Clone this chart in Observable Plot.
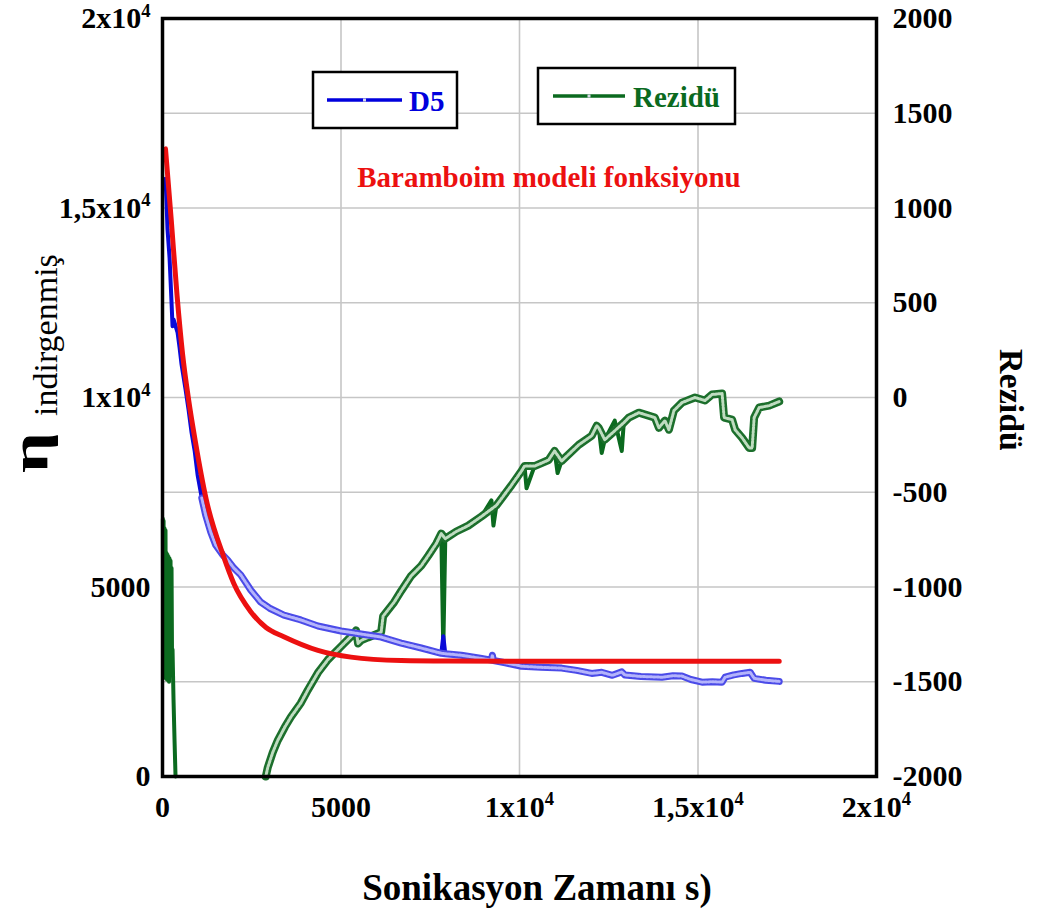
<!DOCTYPE html>
<html>
<head>
<meta charset="utf-8">
<script src="https://cdn.jsdelivr.net/npm/d3@7"></script>
<script src="https://cdn.jsdelivr.net/npm/@observablehq/plot@0.6"></script>
<style>
  html, body { margin: 0; padding: 0; background: #ffffff; }
  #chart { width: 1037px; height: 914px; }
</style>
</head>
<body>
<div id="chart"></div>
<script>
// D5 reduced viscosity vs sonication time (s)
const d5Time = [84, 112, 140, 197, 253, 281, 309, 421, 478, 534, 646, 730, 815, 900, 983, 1100, 1208, 1350, 1489, 1685, 1826, 2000, 2191, 2472, 2753, 3000, 3399, 3876, 4354, 5000, 5562, 6124, 6685, 7247, 7809, 7865, 7921, 8371, 8900, 9214, 9240, 9270, 9600, 10056, 10600, 11180, 11600, 12023, 12303, 12600, 12865, 12950, 13400, 13989, 14300, 14551, 14800, 15113, 15400, 15675, 15759, 16000, 16236, 16461, 16573, 16900, 17275];
const d5Eta = [15770, 15185, 14440, 13700, 12510, 11880, 12060, 11720, 11320, 10870, 10210, 9680, 9070, 8600, 7960, 7350, 6900, 6450, 6110, 5850, 5710, 5500, 5320, 4920, 4600, 4440, 4260, 4130, 3970, 3840, 3760, 3680, 3520, 3390, 3250, 3700, 3240, 3200, 3120, 3070, 3200, 3060, 3000, 2910, 2880, 2860, 2800, 2720, 2750, 2670, 2760, 2680, 2640, 2620, 2660, 2650, 2560, 2490, 2500, 2490, 2620, 2680, 2720, 2750, 2590, 2540, 2510];

// Bahramboim model fit
const modelTime = [84, 244, 407, 562, 730, 927, 1222, 1713, 1994, 2472, 2900, 3399, 4354, 5281, 6685, 8000, 10000, 17275];
const modelEta = [16560, 14700, 12700, 11150, 9950, 8800, 7320, 5800, 5100, 4350, 3930, 3690, 3330, 3150, 3060, 3045, 3040, 3040];

// Residuals (right axis); NaN marks the stretch below -2000
const rezTime = [10, 20, 30, 42, 56, 70, 84, 98, 112, 126, 140, 155, 169, 183, 197, 211, 225, 239, 253, 267, 281, 309, 337, 365, 1600, 2893, 2949, 3090, 3230, 3427, 3596, 3876, 4073, 4354, 4635, 5000, 5365, 5421, 5478, 5562, 5758, 6124, 6180, 6489, 6685, 6966, 7247, 7444, 7669, 7809, 7865, 7921, 8230, 8567, 8933, 9214, 9270, 9354, 9775, 10056, 10141, 10197, 10421, 10815, 10983, 11067, 11180, 11657, 12023, 12163, 12219, 12303, 12388, 12668, 12865, 12921, 13062, 13343, 13792, 13904, 14073, 14185, 14326, 14551, 14916, 15197, 15393, 15675, 15731, 15955, 16039, 16236, 16433, 16517, 16573, 16714, 16995, 17275];
const rezValue = [-640, -1480, -650, -1470, -690, -1460, -700, -1480, -820, -1490, -830, -1480, -840, -1500, -850, -1420, -862, -1390, -900, -1383, -1330, -1596, -1809, -2000, NaN, -2000, -1952, -1872, -1809, -1739, -1686, -1612, -1543, -1452, -1383, -1314, -1245, -1229, -1298, -1282, -1266, -1239, -1154, -1080, -1021, -941, -888, -835, -771, -718, -1330, -745, -707, -676, -628, -543, -676, -569, -463, -388, -362, -479, -362, -330, -282, -399, -335, -250, -202, -149, -160, -293, -223, -122, -282, -133, -106, -80, -106, -160, -122, -170, -69, -27, 0, -16, 16, 21, -106, -117, -170, -213, -266, -266, -106, -53, -43, -21];

const xTicks = [0, 5000, 10000, 15000, 20000];
const yTicks = [0, 5000, 10000, 15000, 20000];
const rezTicks = [-2000, -1500, -1000, -500, 0, 500, 1000, 1500, 2000];

// the residual axis (-2000..2000) shares the frame with the viscosity axis (0..20000)
const toLeft = r => (r + 2000) * 5;
const fromLeft = y => y / 5 - 2000;

// 1x10^4 style labels; the caret part becomes a superscript after rendering
const sciFormat = v => v < 10000 ? String(v) : String(v / 10000).replace(".", ",") + "x10^4";

function isSpike(values, i, thr) {
  if (i === 0 || i === values.length - 1) return false;
  const a = values[i] - values[i - 1], b = values[i] - values[i + 1];
  if (!isFinite(a) || !isFinite(b)) return false;
  return Math.abs(a) > thr && Math.abs(b) > thr && Math.sign(a) === Math.sign(b);
}

const d5Rows = d5Time.map((t, i) => ({t, v: d5Eta[i], spike: isSpike(d5Eta, i, 250)}));
const modelRows = modelTime.map((t, i) => ({t, v: modelEta[i]}));
const rezRows = rezTime.map((t, i) => ({t, r: rezValue[i], y: toLeft(rezValue[i]), spike: isSpike(rezValue, i, 60)}));

// hollow-marker band, drawn where the samples sit close together
const d5Band = d5Rows.filter(d => d.t >= 1100 && !d.spike);
const rezBand = rezRows.filter(d => d.t >= 2800 && !d.spike);

const BLUE = "#0a0ad8";
const GREEN = "#0b6a1f";
const RED = "#ec1010";

const chart = Plot.plot({
  width: 1037,
  height: 914,
  marginLeft: 162,
  marginRight: 161,
  marginTop: 18,
  marginBottom: 138,
  x: {domain: [0, 20000]},
  y: {domain: [0, 20000]},
  style: {fontFamily: "'Liberation Serif', 'Times New Roman', serif", fontSize: "30px", fontWeight: "bold", background: "#ffffff", color: "#000"},
  marks: [
    Plot.gridX([5000, 10000, 15000], {stroke: "#c6c6c6", strokeOpacity: 1, strokeWidth: 1.6}),
    Plot.gridY(rezTicks.slice(1, -1).map(toLeft), {stroke: "#c6c6c6", strokeOpacity: 1, strokeWidth: 1.6}),
    Plot.axisX({ticks: xTicks, tickFormat: sciFormat, tickSize: 0, tickPadding: 19, label: null}),
    Plot.axisY({ticks: yTicks, tickFormat: sciFormat, tickSize: 0, tickPadding: 12, label: null}),
    Plot.axisY({anchor: "right", ticks: rezTicks.map(toLeft), tickFormat: d => String(Math.round(fromLeft(d))), tickSize: 0, tickPadding: 16, label: null}),

    // residuals
    Plot.line(rezRows, {x: "t", y: "y", stroke: GREEN, strokeWidth: 4}),
    Plot.line(rezBand, {x: "t", y: "y", stroke: "#1c6f2c", strokeWidth: 8}),
    Plot.line(rezBand, {x: "t", y: "y", stroke: "#bfdcc0", strokeWidth: 3, strokeDasharray: "2,1.5"}),

    // D5 measurements
    Plot.line(d5Rows, {x: "t", y: "v", stroke: BLUE, strokeWidth: 4}),
    Plot.line(d5Band, {x: "t", y: "v", stroke: "#4b4be8", strokeWidth: 7}),
    Plot.line(d5Band, {x: "t", y: "v", stroke: "#b4b4fb", strokeWidth: 3, strokeDasharray: "2,1.5"}),

    // model curve
    Plot.line(modelRows, {x: "t", y: "v", stroke: RED, strokeWidth: 5, curve: "monotone-x"}),

    Plot.frame({stroke: "#000", strokeWidth: 3.5})
  ]
});

// superscript exponents in tick labels
chart.querySelectorAll("text").forEach(el => {
  const s = el.textContent;
  if (s.includes("^")) {
    const [base, exp] = s.split("^");
    el.textContent = "";
    const ns = "http://www.w3.org/2000/svg";
    const t1 = document.createElementNS(ns, "tspan");
    t1.textContent = base;
    const t2 = document.createElementNS(ns, "tspan");
    t2.textContent = exp;
    t2.setAttribute("font-size", "0.62em");
    t2.setAttribute("dy", "-0.62em");
    el.appendChild(t1);
    el.appendChild(t2);
  }
});

const svg = d3.select(chart);
const serif = "'Liberation Serif', 'Times New Roman', serif";

// left axis title: widened eta with a subscript
const yTitle = svg.append("g").attr("transform", "translate(47,473) rotate(-90)");
yTitle.append("text")
  .attr("transform", "scale(1.5,1.12)")
  .attr("text-anchor", "start")
  .attr("font-family", serif).attr("font-weight", "bold").attr("font-size", 48)
  .attr("fill", "#000")
  .text("η");
yTitle.append("text")
  .attr("x", 57).attr("y", 10)
  .attr("text-anchor", "start")
  .attr("font-family", serif).attr("font-weight", "normal").attr("font-size", 34)
  .attr("fill", "#000")
  .text("indirgenmiş");

svg.append("text")
  .attr("transform", "translate(1000,400) rotate(90)")
  .attr("text-anchor", "middle")
  .attr("font-family", serif).attr("font-weight", "bold").attr("font-size", 34)
  .attr("fill", "#000")
  .text("Rezidü");

svg.append("text")
  .attr("x", 537).attr("y", 900)
  .attr("text-anchor", "middle")
  .attr("font-family", serif).attr("font-weight", "bold").attr("font-size", 37)
  .attr("fill", "#000")
  .text("Sonikasyon Zamanı s)");

// legend boxes
function legendBox(x, y, w, h, lineX1, lineX2, lineY, color, label, labelX, labelY) {
  const g = svg.append("g");
  g.append("rect").attr("x", x).attr("y", y).attr("width", w).attr("height", h)
    .attr("fill", "#fff").attr("stroke", "#000").attr("stroke-width", 2.5);
  g.append("line").attr("x1", lineX1).attr("x2", lineX2).attr("y1", lineY).attr("y2", lineY)
    .attr("stroke", color).attr("stroke-width", 3.5);
  const mx = (lineX1 + lineX2) / 2;
  g.append("rect").attr("x", mx - 1.5).attr("y", lineY - 1.5).attr("width", 3).attr("height", 3)
    .attr("fill", "#d8d8e8").attr("stroke", "none");
  g.append("text").attr("x", labelX).attr("y", labelY)
    .attr("text-anchor", "start")
    .attr("font-family", serif).attr("font-weight", "bold").attr("font-size", 29)
    .attr("fill", color).text(label);
}
legendBox(313, 72, 144, 56, 327, 402, 100, "#0000dd", "D5", 409, 111);
legendBox(538, 68, 197, 56, 553, 625, 96, GREEN, "Rezidü", 633, 107);

svg.append("text")
  .attr("x", 549).attr("y", 187)
  .attr("text-anchor", "middle")
  .attr("font-family", serif).attr("font-weight", "bold").attr("font-size", 29)
  .attr("fill", RED)
  .text("Baramboim modeli fonksiyonu");

document.getElementById("chart").appendChild(chart);
</script>
</body>
</html>
